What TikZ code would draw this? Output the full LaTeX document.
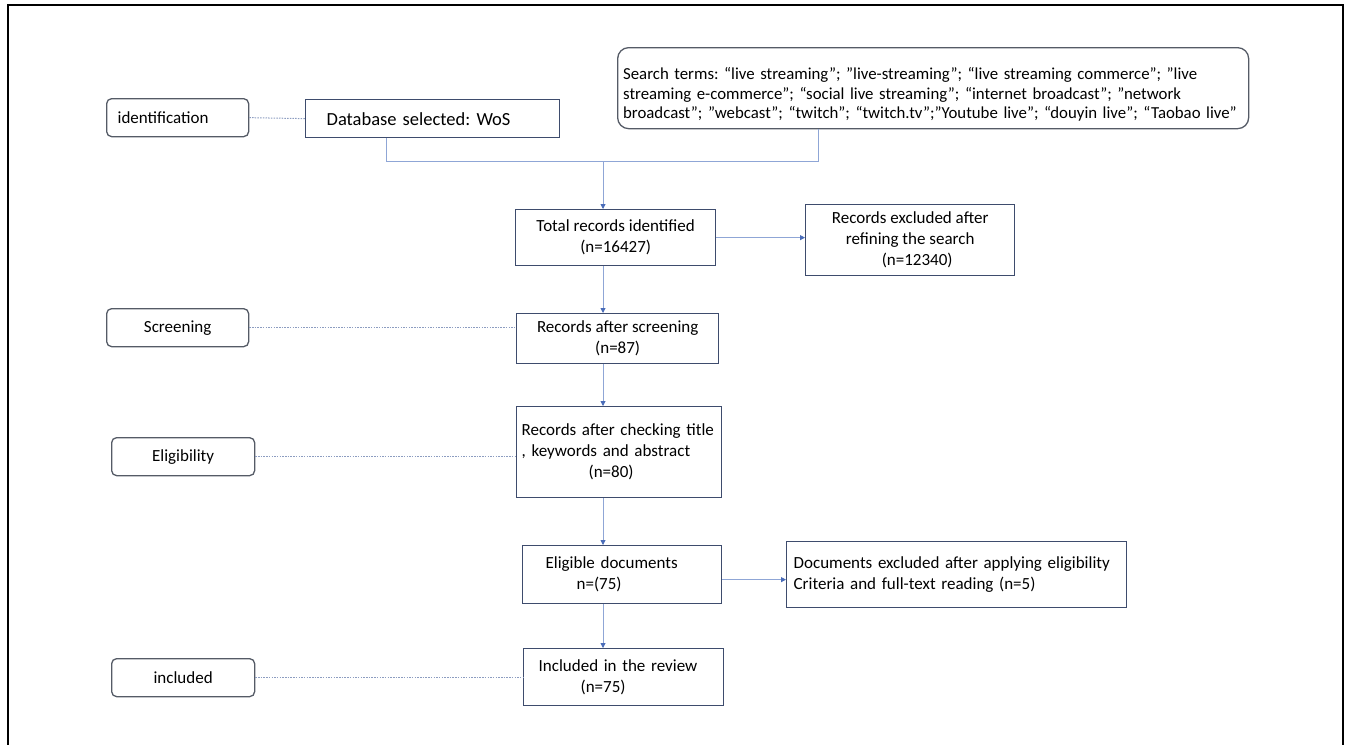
\documentclass[tikz,border=0pt]{standalone}
\usepackage{fontspec}
\setmainfont{Carlito}
\usepackage{xcolor}
\usepackage{tikz}
\usetikzlibrary{arrows.meta}
\frenchspacing
\definecolor{PRBox}{HTML}{3E4C6D}
\definecolor{PRTag}{HTML}{555B66}
\definecolor{PRLine}{HTML}{8FA6D6}
\definecolor{PRTip}{HTML}{4A6CB8}
\definecolor{PRDot}{HTML}{8C9CC0}

\begin{document}
\begin{tikzpicture}[x=1pt,y=-1pt,
  phase/.style={draw=PRTag,line width=1.3pt,rounded corners=5pt,anchor=north west,inner sep=0pt,
    minimum width=142pt,minimum height=38pt,font=\fontsize{17}{21}\selectfont},
  recbox/.style={draw=PRBox,line width=1.3pt,anchor=north west,inner sep=0pt,font=\fontsize{17}{21}\selectfont},
  link/.style={draw=PRLine,line width=0.9pt},
  flow/.style={link,-{Triangle[length=5pt,width=5pt,color=PRTip]}},
  tie/.style={draw=PRDot,line width=1pt,dash pattern=on 1.5pt off 1.2pt}]
\path[use as bounding box] (0,0) rectangle (1348,744);
\draw[line width=2.4pt] (8,750) -- (8,5) -- (1343,5) -- (1343,750);

\node[phase,text width=120pt,align=left] (ident) at (106,98) {identification};
\node[recbox,minimum width=254pt,minimum height=38pt,text width=212pt,align=left,
  font=\fontsize{18.5}{22}\selectfont] (dbsel) at (305,99) {Database selected: WoS};
\node[recbox,draw=PRTag,rounded corners=11pt,minimum width=631pt,minimum height=81pt,text width=620pt,align=left,
  font=\fontsize{16.8}{19.5}\selectfont] (terms) at (617,47)
  {\mbox{\rule{0pt}{25pt}Search terms: “live streaming”; ”live-streaming”; “live streaming commerce”; ”live}\\
   \mbox{streaming e-commerce”; “social live streaming”; “internet broadcast”; ”network}\\
   \mbox{broadcast”; ”webcast”; “twitch”; “twitch.tv”;”Youtube live”; “douyin live”; “Taobao live”}};

\node[recbox,minimum width=200pt,minimum height=56pt,align=center] (total) at (515,209)
  {Total records identified\\(n=16427)};
\node[recbox,minimum width=209pt,minimum height=71pt,align=center] (refined) at (805,204)
  {Records excluded after\\refining the search\\\hspace*{14pt}(n=12340)};

\node[phase,align=center] (screen) at (106,308) {Screening};
\node[recbox,minimum width=202pt,minimum height=50pt,align=center] (screened) at (516,313)
  {Records after screening\\(n=87)};

\node[phase,minimum width=143pt,align=center] (elig) at (111,437) {Eligibility};
\node[recbox,minimum width=205pt,minimum height=91pt,text width=195pt,align=left] (checked) at (516,406)
  {Records after checking title\\, keywords and abstract\\\hspace*{67pt}(n=80)};

\node[recbox,minimum width=199pt,minimum height=58pt,text width=185pt,align=left] (eligible) at (522,545)
  {\hspace*{16pt}Eligible documents\\\hspace*{47pt}n=(75)};
\node[recbox,minimum width=340pt,minimum height=66pt,text width=326pt,align=left] (docsout) at (786,541)
  {Documents excluded after applying eligibility\\Criteria and full-text reading (n=5)};

\node[phase,minimum width=143pt,align=center] (incl) at (111,658) {included};
\node[recbox,minimum width=200pt,minimum height=57pt,text width=186pt,align=left] (review) at (523,648)
  {\hspace*{8pt}Included in the review\\\hspace*{50pt}(n=75)};

\coordinate (bl) at (386,161);
\coordinate (br) at (818,161);
\coordinate (jn) at (603,161);
\draw[link] (bl |- dbsel.south) -- (bl) -- (br) -- (br |- terms.south);
\draw[flow] (jn) -- (jn |- total.north);
\draw[flow] (total.east) -- (total.east -| refined.west);
\draw[flow] (jn |- total.south) -- (jn |- screened.north);
\draw[flow] (jn |- screened.south) -- (jn |- checked.north);
\draw[flow] (jn |- checked.south) -- (jn |- eligible.north);
\draw[flow] ([yshift=-5pt]eligible.east) -- ([yshift=-5pt]eligible.east -| docsout.west);
\draw[flow] (jn |- eligible.south) -- (jn |- review.north);

\draw[tie] (ident.east) -- (dbsel.west);
\draw[tie] (screen.east) -- (screen.east -| screened.west);
\draw[tie] (elig.east) -- (elig.east -| checked.west);
\draw[tie] (incl.east) -- (incl.east -| review.west);
\end{tikzpicture}
\end{document}
